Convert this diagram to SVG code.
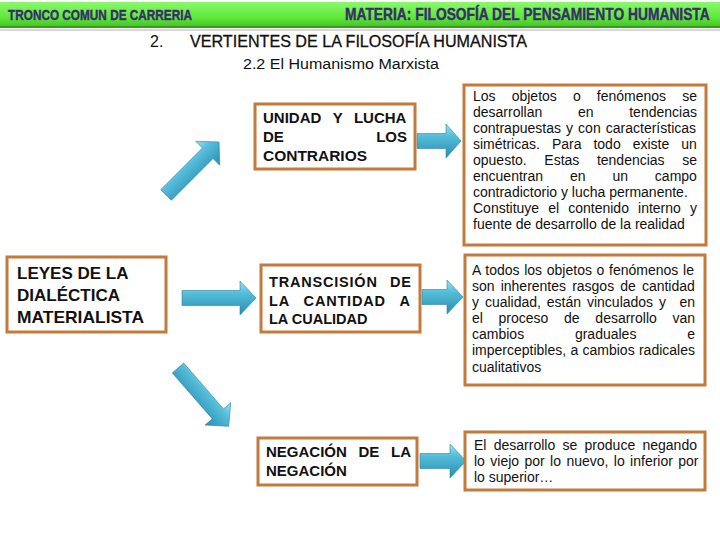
<svg xmlns="http://www.w3.org/2000/svg" width="720" height="540" viewBox="0 0 720 540">
<defs>
<linearGradient id="hdr" x1="0" y1="0" x2="0" y2="1">
<stop offset="0" stop-color="#8af86c"/>
<stop offset="0.6" stop-color="#5ee83a"/>
<stop offset="1" stop-color="#3fbf22"/>
</linearGradient>
<linearGradient id="arr" x1="0" y1="0" x2="0" y2="1">
<stop offset="0" stop-color="#9fe0f2"/>
<stop offset="0.35" stop-color="#55bedb"/>
<stop offset="1" stop-color="#2a8cae"/>
</linearGradient>
<path id="ar45" d="M0,-7.5 H59 V-17 L75,0 L59,17 V7.5 H0 Z"/>
</defs>
<style>
.hd{font-family:"Liberation Sans",Arial,sans-serif;font-weight:bold;fill:#3a2d6b;stroke:#3a2d6b;stroke-width:0.35}
.ttl{font-family:"Liberation Sans",Arial,sans-serif;fill:#111}
.box{fill:#fff;stroke:#c47a3a;stroke-width:3}
.bt{font-family:"Liberation Sans",Arial,sans-serif;font-weight:bold;fill:#111}
.tx{font-family:"Liberation Sans",Arial,sans-serif;font-size:14px;fill:#111}
.arrow{fill:url(#arr);stroke:#2a86a6;stroke-width:0.6}
</style>
<rect width="720" height="540" fill="#fff"/>
<g id="header">
<rect x="0" y="29" width="720" height="2" fill="#d8d8d8"/>
<rect x="0" y="2" width="720" height="26" fill="url(#hdr)"/>
<rect x="0" y="26" width="720" height="2" fill="#3a9a20"/>
<text class="hd" transform="translate(8,20) scale(1,1.25)" x="0" y="0" font-size="11.8">TRONCO COMUN DE CARRERIA</text>
<text class="hd" transform="translate(345,20) scale(1,1.2)" x="0" y="0" font-size="13.8">MATERIA: FILOSOFÍA DEL PENSAMIENTO HUMANISTA</text>
</g>
<g id="title">
<text class="ttl" x="150" y="47" font-size="16">2.</text>
<text class="ttl" x="190" y="47" font-size="16" textLength="337" lengthAdjust="spacingAndGlyphs" stroke="#111" stroke-width="0.3">VERTIENTES DE LA FILOSOFÍA HUMANISTA</text>
<text class="ttl" x="243" y="69" font-size="15.5" textLength="196" lengthAdjust="spacingAndGlyphs" fill="#333">2.2 El Humanismo Marxista</text>
</g>
<g id="connectors">
<use href="#ar45" class="arrow" transform="translate(166,195) rotate(-45)"/>
<use href="#ar45" class="arrow" transform="translate(178,368) rotate(49) scale(1.03,1)"/>
<path class="arrow" d="M182,290.5 H240 V281 L256,298 L240,315 V305.5 H182 Z"/>
<path class="arrow" d="M417,133.5 H446 V124 L461,141 L446,158 V148.5 H417 Z"/>
<path class="arrow" d="M422,289.5 H447 V280 L463,297 L447,314 V304.5 H422 Z"/>
<path class="arrow" d="M420,453.5 H450 V444 L466,461 L450,478 V468.5 H420 Z"/>
</g>
<g id="leyes">
<rect class="box" x="7" y="257" width="159" height="75"/>
<text class="bt" x="17" y="279" font-size="17">LEYES DE LA</text>
<text class="bt" x="17" y="301" font-size="17">DIALÉCTICA</text>
<text class="bt" x="17" y="323" font-size="17" textLength="127" lengthAdjust="spacingAndGlyphs">MATERIALISTA</text>
</g>
<g id="unidad">
<rect class="box" x="255" y="104" width="160" height="65"/>
<text class="bt" x="263" y="123" font-size="15" word-spacing="7.4">UNIDAD Y LUCHA</text>
<text class="bt" x="263" y="142" font-size="15">DE</text>
<text class="bt" x="407" y="142" font-size="15" text-anchor="end">LOS</text>
<text class="bt" x="263" y="161" font-size="15" textLength="104" lengthAdjust="spacingAndGlyphs">CONTRARIOS</text>
</g>
<g id="transcision">
<rect class="box" x="261" y="265" width="159" height="67"/>
<text class="bt" x="269" y="287" font-size="14.5" letter-spacing="0.8" word-spacing="7.5">TRANSCISIÓN DE</text>
<text class="bt" x="269" y="306" font-size="14.5" letter-spacing="0.8" word-spacing="9.4">LA CANTIDAD A</text>
<text class="bt" x="269" y="324" font-size="14.5">LA CUALIDAD</text>
</g>
<g id="negacion">
<rect class="box" x="258" y="438" width="159" height="47"/>
<text class="bt" x="266" y="457" font-size="15" word-spacing="7.5">NEGACIÓN DE LA</text>
<text class="bt" x="266" y="476" font-size="15">NEGACIÓN</text>
</g>
<g id="texto1">
<rect class="box" x="464" y="85" width="242" height="160"/>
<text class="tx" x="473" y="100.7" word-spacing="12.2">Los objetos o fenómenos se</text>
<text class="tx" x="473" y="116.7" word-spacing="31.8">desarrollan en tendencias</text>
<text class="tx" x="473" y="132.7" word-spacing="1.2">contrapuestas y con características</text>
<text class="tx" x="473" y="148.7" word-spacing="8.1">simétricas. Para todo existe un</text>
<text class="tx" x="473" y="164.7" word-spacing="13.7">opuesto. Estas tendencias se</text>
<text class="tx" x="473" y="180.7" word-spacing="23">encuentran en un campo</text>
<text class="tx" x="473" y="196.7">contradictorio y lucha permanente.</text>
<text class="tx" x="473" y="212.7" word-spacing="5.2">Constituye el contenido interno y</text>
<text class="tx" x="473" y="228.7">fuente de desarrollo de la realidad</text>
</g>
<g id="texto2">
<rect class="box" x="465" y="255" width="240" height="130"/>
<text class="tx" x="472" y="275" word-spacing="0.8">A todos los objetos o fenómenos le</text>
<text class="tx" x="472" y="291" word-spacing="2.2">son inherentes rasgos de cantidad</text>
<text class="tx" x="472" y="307" word-spacing="2">y cualidad, están vinculados y</text>
<text class="tx" x="695" y="307" text-anchor="end">en</text>
<text class="tx" x="472" y="323" word-spacing="11.8">el proceso de desarrollo van</text>
<text class="tx" x="472" y="339" word-spacing="46.9">cambios graduales e</text>
<text class="tx" x="472" y="355" word-spacing="0.4">imperceptibles, a cambios radicales</text>
<text class="tx" x="472" y="371.5">cualitativos</text>
</g>
<g id="texto3">
<rect class="box" x="465" y="432" width="240" height="58"/>
<text class="tx" x="474" y="450" word-spacing="3.4">El desarrollo se produce negando</text>
<text class="tx" x="474" y="466" word-spacing="1.5">lo viejo por lo nuevo, lo inferior por</text>
<text class="tx" x="474" y="482">lo superior…</text>
</g>
</svg>
